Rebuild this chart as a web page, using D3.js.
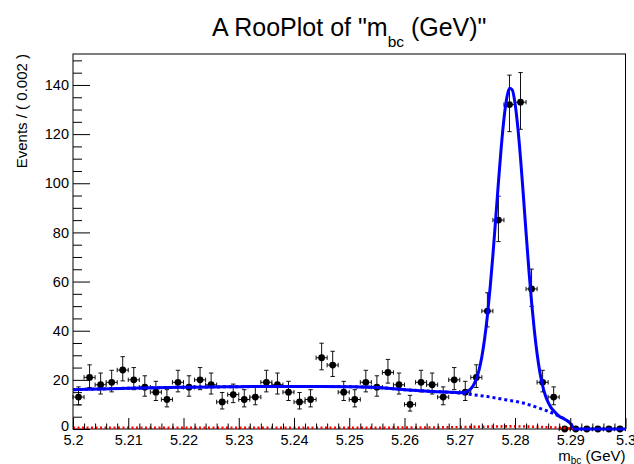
<!DOCTYPE html>
<html>
<head>
<meta charset="utf-8">
<script src="https://cdn.jsdelivr.net/npm/d3@7"></script>
<style>
  html, body { margin: 0; padding: 0; background: #fff; }
  svg { display: block; font-family: "Liberation Sans", Arial, Helvetica, sans-serif; }
</style>
</head>
<body>
<svg id="plot" width="634" height="464"></svg>
<script>
// Binned data: 50 bins of width 0.002 GeV between 5.20 and 5.30
const binLow = 5.2;
const binWidth = 0.002;
const counts = [
  13, 21, 18, 19, 24, 20, 17, 15, 12, 19,
  17, 20, 18, 11, 14, 12, 13, 19, 18, 15,
  11, 12, 29, 26, 15, 12, 19, 17, 23, 18,
  10, 19, 18, 13, 20, 15, 21, 48, 85, 132,
  133, 57, 19, 13, 0, 0, 0, 0, 0, 0
];

// Full model curve (signal + background)
const totalX = [5.200, 5.205, 5.210, 5.215, 5.220, 5.225, 5.230, 5.235, 5.240, 5.245,
  5.250, 5.255, 5.260, 5.265, 5.270, 5.271, 5.272, 5.2725, 5.273, 5.2735,
  5.274, 5.2745, 5.275, 5.2755, 5.276, 5.2765, 5.277, 5.2775, 5.278, 5.2785,
  5.279, 5.2795, 5.280, 5.2805, 5.281, 5.2815, 5.282, 5.2825, 5.283, 5.2835,
  5.284, 5.2845, 5.285, 5.2855, 5.286, 5.2865, 5.287, 5.288, 5.289, 5.290,
  5.2903, 5.2905, 5.300];
const totalY = [16.0, 16.3, 16.6, 16.8, 17.0, 17.1, 17.2, 17.3, 17.3, 17.3,
  17.2, 16.9, 16.0, 15.3, 14.8, 15.0, 16.4, 17.9, 20.4, 24.1,
  29.4, 36.7, 46.0, 57.5, 70.8, 85.4, 100.4, 114.4, 126.2, 134.6,
  138.7, 138.0, 132.6, 123.0, 110.2, 95.4, 80.0, 65.1, 51.6, 40.1,
  30.6, 23.1, 17.6, 13.6, 10.8, 8.8, 7.4, 5.2, 4.0, 2.3,
  1.4, 0, 0];

// Background component
const bkgX = [5.200, 5.205, 5.210, 5.215, 5.220, 5.225, 5.230, 5.235, 5.240, 5.245,
  5.250, 5.255, 5.260, 5.265, 5.270, 5.2725, 5.275, 5.2785, 5.281, 5.2845,
  5.286, 5.2875, 5.289, 5.290, 5.2903, 5.2905];
const bkgY = [16.0, 16.3, 16.6, 16.8, 17.0, 17.1, 17.2, 17.3, 17.3, 17.3,
  17.2, 16.9, 16.0, 15.3, 14.6, 13.9, 13.2, 11.8, 10.8, 8.4,
  7.2, 5.7, 4.0, 2.3, 1.4, 0];

// Small extra component drawn in red
const redX = [5.200, 5.220, 5.240, 5.260, 5.265, 5.270, 5.275, 5.278, 5.280, 5.283,
  5.286, 5.288, 5.290, 5.2905];
const redY = [0.5, 0.5, 0.5, 0.55, 0.6, 0.75, 0.95, 1.05, 1.05, 0.95,
  0.7, 0.5, 0.2, 0];

// Axis ticks
const xMajor = [5.20, 5.21, 5.22, 5.23, 5.24, 5.25, 5.26, 5.27, 5.28, 5.29, 5.30];
const yMajor = [0, 20, 40, 60, 80, 100, 120, 140];

const svg = d3.select("#plot");
const frameL = 73, frameR = 625.5, frameT = 54, frameB = 429;

const x = d3.scaleLinear().domain([5.2, 5.3]).range([frameL, frameR]);
const y = d3.scaleLinear().domain([0, 152.6]).range([frameB, frameT]);

// Title
const title = svg.append("text")
  .attr("x", (frameL + frameR) / 2).attr("y", 35.5)
  .attr("text-anchor", "middle")
  .attr("font-size", 25).attr("fill", "#000");
title.append("tspan").text('A RooPlot of "m');
title.append("tspan").attr("font-size", 15.5).attr("dy", 11).text("bc");
title.append("tspan").attr("dy", -11).text(' (GeV)"');

// Frame
svg.append("rect")
  .attr("x", frameL).attr("y", frameT)
  .attr("width", frameR - frameL).attr("height", frameB - frameT)
  .attr("fill", "none").attr("stroke", "#000").attr("stroke-width", 1);

// Data points with Poisson-style error bars
const points = counts.map((n, i) => {
  const c = binLow + (i + 0.5) * binWidth;
  const s = Math.sqrt(n + 0.25);
  return { c, n, lo: n === 0 ? 0 : n + 0.5 - s, hi: n + 0.5 + s };
});

const gData = svg.append("g");
const cap = 2.2;
points.forEach(p => {
  const cx = x(p.c), cy = y(p.n);
  const x0 = x(p.c - binWidth / 2), x1 = x(p.c + binWidth / 2);
  const y0 = y(p.lo), y1 = y(p.hi);
  const g = gData.append("g").attr("stroke", "#111").attr("stroke-width", 1).attr("fill", "none");
  g.append("line").attr("x1", cx).attr("x2", cx).attr("y1", y0).attr("y2", y1);
  g.append("line").attr("x1", cx - cap).attr("x2", cx + cap).attr("y1", y1).attr("y2", y1);
  if (p.n > 0) g.append("line").attr("x1", cx - cap).attr("x2", cx + cap).attr("y1", y0).attr("y2", y0);
  g.append("line").attr("x1", x0).attr("x2", x1).attr("y1", cy).attr("y2", cy);
  g.append("line").attr("x1", x0).attr("x2", x0).attr("y1", cy - cap).attr("y2", cy + cap);
  g.append("line").attr("x1", x1).attr("x2", x1).attr("y1", cy - cap).attr("y2", cy + cap);
  gData.append("circle").attr("cx", cx).attr("cy", cy).attr("r", 3.4).attr("fill", "#000");
});

// Curves
const line = d3.line().x(d => x(d[0])).y(d => y(d[1])).curve(d3.curveMonotoneX);
const zip = (a, b) => a.map((v, i) => [v, b[i]]);

svg.append("path").datum(zip(totalX, totalY))
  .attr("d", line).attr("fill", "none")
  .attr("stroke", "#0000ff").attr("stroke-width", 3);

svg.append("path").datum(zip(bkgX, bkgY))
  .attr("d", line).attr("fill", "none")
  .attr("stroke", "#0000ff").attr("stroke-width", 3)
  .attr("stroke-dasharray", "3,3");

svg.append("path").datum(zip(redX, redY))
  .attr("d", line).attr("fill", "none")
  .attr("stroke", "#ff0000").attr("stroke-width", 2.6)
  .attr("stroke-dasharray", "2,2.5");

// Axes (ticks point into the frame)
const yMinor = d3.range(0, 151, 5).filter(v => v % 20 !== 0);
const xMinor = d3.range(0, 51).map(i => 5.2 + i * 0.002)
  .filter(v => Math.abs(Math.round(v * 100) - v * 100) > 1e-6);

function styleAxis(g) {
  g.select(".domain").remove();
  g.selectAll(".tick line").attr("stroke", "#000").attr("stroke-width", 1);
  g.selectAll("text").attr("fill", "#000").attr("font-size", 14.5)
    .attr("font-family", '"Liberation Sans", Arial, sans-serif');
}

const yAxisG = svg.append("g").attr("transform", `translate(${frameL},0)`)
  .call(d3.axisLeft(y).tickValues(yMajor).tickSizeInner(-17).tickSizeOuter(0).tickPadding(4))
  .call(styleAxis);
// lift the zero label slightly so it clears the x labels
yAxisG.selectAll(".tick text").filter(d => d === 0).attr("dy", "0.1em");

svg.append("g").attr("transform", `translate(${frameL},0)`)
  .call(d3.axisLeft(y).tickValues(yMinor).tickSizeInner(-9).tickSizeOuter(0).tickFormat(""))
  .call(styleAxis);

svg.append("g").attr("transform", `translate(0,${frameB})`)
  .call(d3.axisBottom(x).tickValues(xMajor).tickSizeInner(-11).tickSizeOuter(0).tickPadding(6)
    .tickFormat(d => String(+d.toFixed(2))))
  .call(styleAxis);
svg.append("g").attr("transform", `translate(0,${frameB})`)
  .call(d3.axisBottom(x).tickValues(xMinor).tickSizeInner(-5.5).tickSizeOuter(0).tickFormat(""))
  .call(styleAxis);

// Axis titles
const xt = svg.append("text")
  .attr("x", frameR).attr("y", 460.5).attr("text-anchor", "end")
  .attr("font-size", 15).attr("fill", "#000");
xt.append("tspan").text("m");
xt.append("tspan").attr("font-size", 10).attr("dy", 3).text("bc");
xt.append("tspan").attr("dy", -3).text(" (GeV)");

svg.append("text")
  .attr("transform", `translate(27,${frameT}) rotate(-90)`)
  .attr("text-anchor", "end")
  .attr("font-size", 15).attr("fill", "#000")
  .text("Events / ( 0.002 )");
</script>
</body>
</html>
